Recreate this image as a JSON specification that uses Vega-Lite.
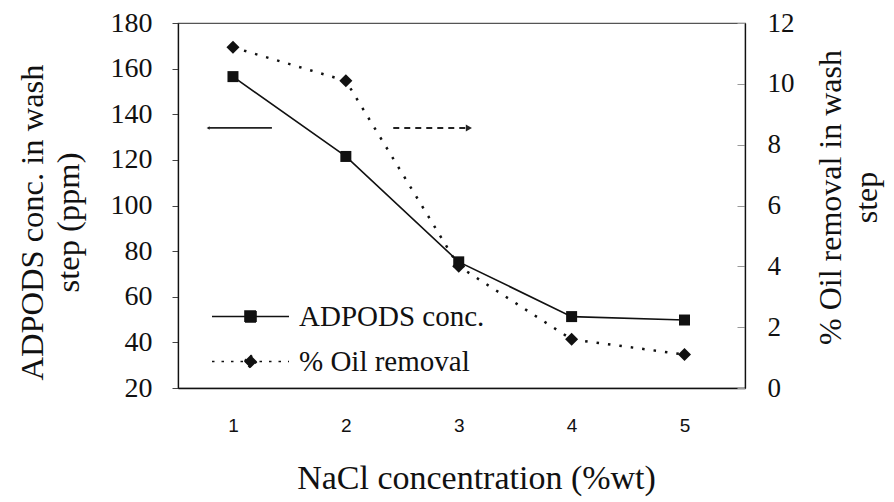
{
  "$schema": "https://vega.github.io/schema/vega-lite/v6.json",
  "width": 567,
  "height": 365,
  "autosize": {"type": "none"},
  "padding": {"left": 178, "top": 23, "right": 149, "bottom": 114},
  "background": "white",
  "config": {
    "view": {"stroke": "#555", "strokeWidth": 1.2},
    "font": "Liberation Serif",
    "axis": {"labelFont": "Liberation Serif", "titleFont": "Liberation Serif"},
    "legend": {"labelFont": "Liberation Serif"}
  },
  "data": {
    "values": [
      {"nacl": 1, "series": "ADPODS conc.", "value": 156.5},
      {"nacl": 2, "series": "ADPODS conc.", "value": 121.5},
      {"nacl": 3, "series": "ADPODS conc.", "value": 75.3},
      {"nacl": 4, "series": "ADPODS conc.", "value": 51.3},
      {"nacl": 5, "series": "ADPODS conc.", "value": 49.8},
      {"nacl": 1, "series": "% Oil removal", "value": 11.2},
      {"nacl": 2, "series": "% Oil removal", "value": 10.1},
      {"nacl": 3, "series": "% Oil removal", "value": 4.0},
      {"nacl": 4, "series": "% Oil removal", "value": 1.6},
      {"nacl": 5, "series": "% Oil removal", "value": 1.1}
    ]
  },
  "encoding": {
    "x": {
      "field": "nacl",
      "type": "quantitative",
      "scale": {"domain": [0.513, 5.536], "nice": false, "zero": false},
      "axis": {
        "values": [1, 2, 3, 4, 5],
        "format": "d",
        "grid": false,
        "ticks": false,
        "domainColor": "#111",
        "domainWidth": 1.3,
        "labelFont": "Liberation Sans",
        "labelFontSize": 19,
        "labelColor": "#111",
        "labelPadding": 28,
        "title": "NaCl concentration (%wt)",
        "titleFont": "Liberation Serif",
        "titleFontSize": 34,
        "titleFontWeight": "normal",
        "titleColor": "#111",
        "titleAlign": "center",
        "titleBaseline": "middle",
        "titleX": 298,
        "titleY": 90
      }
    }
  },
  "layer": [
    {
      "layer": [
        {
          "transform": [{"filter": "datum.series === 'ADPODS conc.'"}],
          "mark": {"type": "line", "strokeWidth": 1.6},
          "encoding": {
            "y": {
              "field": "value",
              "type": "quantitative",
              "scale": {"domain": [20, 180], "nice": false, "zero": false},
              "axis": {
                "values": [20, 40, 60, 80, 100, 120, 140, 160, 180],
                "grid": false,
                "tickSize": 6,
                "tickColor": "#444",
                "domainColor": "#111",
                "domainWidth": 1.3,
                "labelFont": "Liberation Serif",
                "labelFontSize": 28,
                "labelColor": "#111",
                "labelPadding": 20,
                "title": ["ADPODS conc. in wash", "step  (ppm)"],
                "titleFont": "Liberation Serif",
                "titleFontSize": 32.5,
                "titleFontWeight": "normal",
                "titleColor": "#111",
                "titleAngle": -90,
                "titleBaseline": "top",
                "titleAlign": "center",
                "titleLineHeight": 36,
                "titleX": -162,
                "titleY": 199
              }
            },
            "color": {
              "field": "series",
              "type": "nominal",
              "scale": {"domain": ["ADPODS conc.", "% Oil removal"], "range": ["#111", "#111"]},
              "legend": {
                "title": null,
                "orient": "none",
                "legendX": 58,
                "legendY": 279,
                "padding": 0,
                "rowPadding": 15,
                "symbolSize": 400,
                "labelOffset": 34,
                "labelLimit": 0,
                "labelFont": "Liberation Serif",
                "labelFontSize": 29,
                "labelColor": "#111",
                "encode": {
                  "symbols": {
                    "update": {
                      "shape": {"signal": "datum.value === '% Oil removal' ? 'M-3.85,0H3.85M0,-0.65L0.65,0L0,0.65L-0.65,0Z' : 'M-3.85,0H3.85M-0.55,-0.55H0.55V0.55H-0.55Z'"},
                      "strokeDash": {"signal": "datum.value === '% Oil removal' ? [2.5, 7] : [1, 0]"},
                      "fill": {"value": "#111"},
                      "stroke": {"value": "#111"},
                      "strokeWidth": {"value": 1.6},
                      "opacity": {"value": 1}
                    }
                  }
                }
              }
            }
          }
        },
        {
          "transform": [{"filter": "datum.series === 'ADPODS conc.'"}],
          "mark": {"type": "point", "shape": "square", "filled": true, "size": 121, "color": "#111", "opacity": 1},
          "encoding": {"y": {"field": "value", "type": "quantitative"}}
        },
        {
          "data": {"values": [
            {"xa": 0.78, "xb": 1.345, "ya": 134, "kind": "solid"}
          ]},
          "mark": {"type": "rule", "strokeWidth": 1.8, "color": "#222"},
          "encoding": {
            "x": {"field": "xa", "type": "quantitative"},
            "x2": {"field": "xb"},
            "y": {"field": "ya", "type": "quantitative"}
          }
        },
        {
          "data": {"values": [
            {"xa": 2.42, "xb": 3.06, "ya": 134, "kind": "dashed"}
          ]},
          "mark": {"type": "rule", "strokeWidth": 2, "strokeDash": [6, 5], "color": "#222"},
          "encoding": {
            "x": {"field": "xa", "type": "quantitative"},
            "x2": {"field": "xb"},
            "y": {"field": "ya", "type": "quantitative"}
          }
        },
        {
          "data": {"values": [
            {"xh": 3.09, "ya": 134, "dir": "right"},
            {"xh": 0.78, "ya": 134, "dir": "left"}
          ]},
          "mark": {"type": "point", "filled": true, "color": "#222", "opacity": 1},
          "encoding": {
            "x": {"field": "xh", "type": "quantitative"},
            "y": {"field": "ya", "type": "quantitative"},
            "shape": {"field": "dir", "type": "nominal", "scale": {"domain": ["right", "left"], "range": ["triangle-right", "triangle-left"]}, "legend": null},
            "size": {"field": "dir", "type": "nominal", "scale": {"domain": ["right", "left"], "range": [50, 12]}, "legend": null}
          }
        }
      ]
    },
    {
      "layer": [
        {
          "transform": [{"filter": "datum.series === '% Oil removal'"}],
          "mark": {"type": "line", "strokeWidth": 2.5, "strokeDash": [2.5, 9]},
          "encoding": {
            "y": {
              "field": "value",
              "type": "quantitative",
              "scale": {"domain": [0, 12], "nice": false, "zero": false},
              "axis": {
                "orient": "right",
                "values": [0, 2, 4, 6, 8, 10, 12],
                "grid": false,
                "tickSize": -8,
                "tickColor": "#999",
                "domainColor": "#111",
                "domainWidth": 1.3,
                "labelFont": "Liberation Serif",
                "labelFontSize": 27,
                "labelColor": "#111",
                "labelPadding": 30,
                "title": ["% Oil removal in wash", "\u00a0\u00a0\u00a0\u00a0\u00a0\u00a0\u00a0\u00a0step"],
                "titleFont": "Liberation Serif",
                "titleFontSize": 32,
                "titleFontWeight": "normal",
                "titleColor": "#111",
                "titleAngle": -90,
                "titleBaseline": "top",
                "titleAlign": "center",
                "titleLineHeight": 36,
                "titleX": 70,
                "titleY": 174
              }
            },
            "color": {"field": "series", "type": "nominal"}
          }
        },
        {
          "transform": [{"filter": "datum.series === '% Oil removal'"}],
          "mark": {"type": "point", "shape": "diamond", "filled": true, "size": 170, "color": "#111", "opacity": 1},
          "encoding": {"y": {"field": "value", "type": "quantitative"}}
        }
      ]
    }
  ],
  "resolve": {"scale": {"y": "independent"}}
}
